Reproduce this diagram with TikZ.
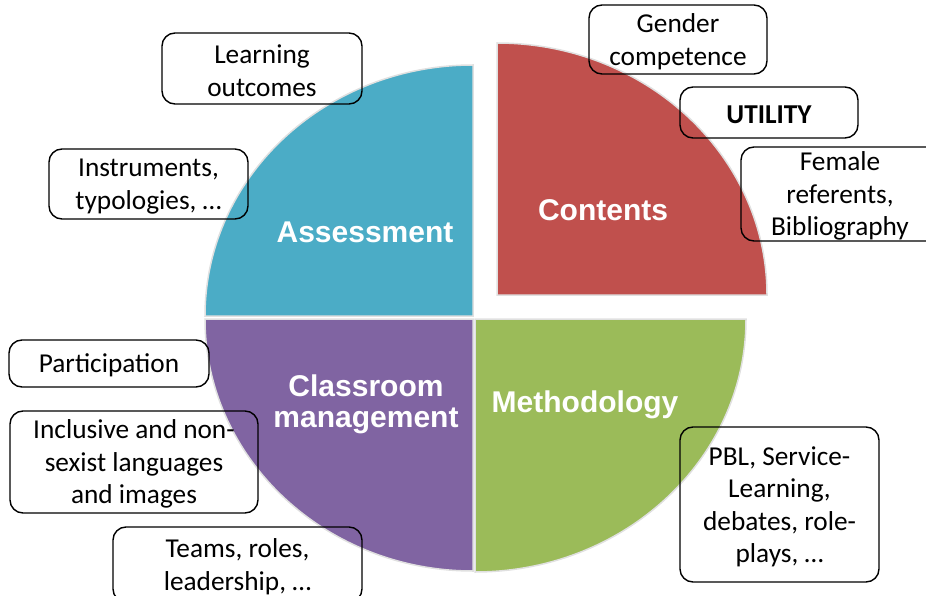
\documentclass[tikz,border=0pt]{standalone}
\usepackage{fontspec}
\setmainfont{Carlito}
\newfontfamily\labfont{Liberation Sans}
\definecolor{qblue}{HTML}{4BACC6}
\definecolor{qred}{HTML}{C0504D}
\definecolor{qgreen}{HTML}{9BBB59}
\definecolor{qpurple}{HTML}{8064A2}
\newcommand\topstrut{\rule{0pt}{23pt}}
\begin{document}
\begin{tikzpicture}[x=1pt,y=-1pt,
  quad/.style={draw=black!12, line width=1.5pt},
  tbox/.style={draw=black, line width=1.4pt, rounded corners=13pt, align=center,
    font=\fontsize{27.3}{32.5}\selectfont, inner sep=0pt},
  qlabel/.style={text=white, font=\labfont\bfseries\fontsize{30}{32}\selectfont, anchor=base}]
\useasboundingbox (0,0) rectangle (926,596);
% quadrants
\path[quad, fill=qblue] (205,316) arc[start angle=180, end angle=90, x radius=268pt, y radius=251pt] -- (473,316) -- cycle;
\path[quad, fill=qred] (497,43) arc[start angle=90, end angle=0, x radius=270pt, y radius=252pt] -- (497,295) -- cycle;
\path[quad, fill=qgreen] (746,319) arc[start angle=0, end angle=-90, x radius=271pt, y radius=253pt] -- (475,319) -- cycle;
\path[quad, fill=qpurple] (473,571) arc[start angle=270, end angle=180, x radius=268pt, y radius=252pt] -- (473,319) -- cycle;
% labels
\node[qlabel] (as) at (365,243) {Assessment};
\node[qlabel] (co) at (603,221) {Contents};
\node[qlabel] (me) at (585,412) {Methodology};
\node[qlabel] (cl1) at (366,396) {Classroom};
\node[qlabel] (cl2) at (366,427) {management};
% boxes
\node[tbox, minimum width=200pt, minimum height=71pt] (lo) at (262,68.5) {\topstrut Learning\\outcomes};
\node[tbox, minimum width=199pt, minimum height=70pt] (ins) at (148.5,184) {\topstrut Instruments,\\typologies, …};
\node[tbox, minimum width=178pt, minimum height=69pt] (gen) at (678,39.5) {\topstrut Gender\\competence};
\node[tbox, minimum width=178pt, minimum height=51pt, font=\fontsize{27.3}{32.5}\selectfont\bfseries] (uti) at (769,112.5) {\topstrut UTILITY};
\node[tbox, minimum width=198pt, minimum height=94pt] (fem) at (840,194) {\topstrut Female\\referents,\\Bibliography};
\node[tbox, minimum width=200pt, minimum height=47pt] (par) at (109,363.5) {\topstrut Participation};
\node[tbox, minimum width=248pt, minimum height=102pt] (inc) at (134,462) {\topstrut Inclusive and non-\\sexist languages\\and images};
\node[tbox, minimum width=249pt, minimum height=75pt] (tea) at (237.5,564.5) {\topstrut Teams, roles,\\leadership, …};
\node[tbox, minimum width=199pt, minimum height=155pt] (pbl) at (779.5,504.5) {\topstrut PBL, Service-\\Learning,\\debates, role-\\plays, …};
\end{tikzpicture}
\end{document}
